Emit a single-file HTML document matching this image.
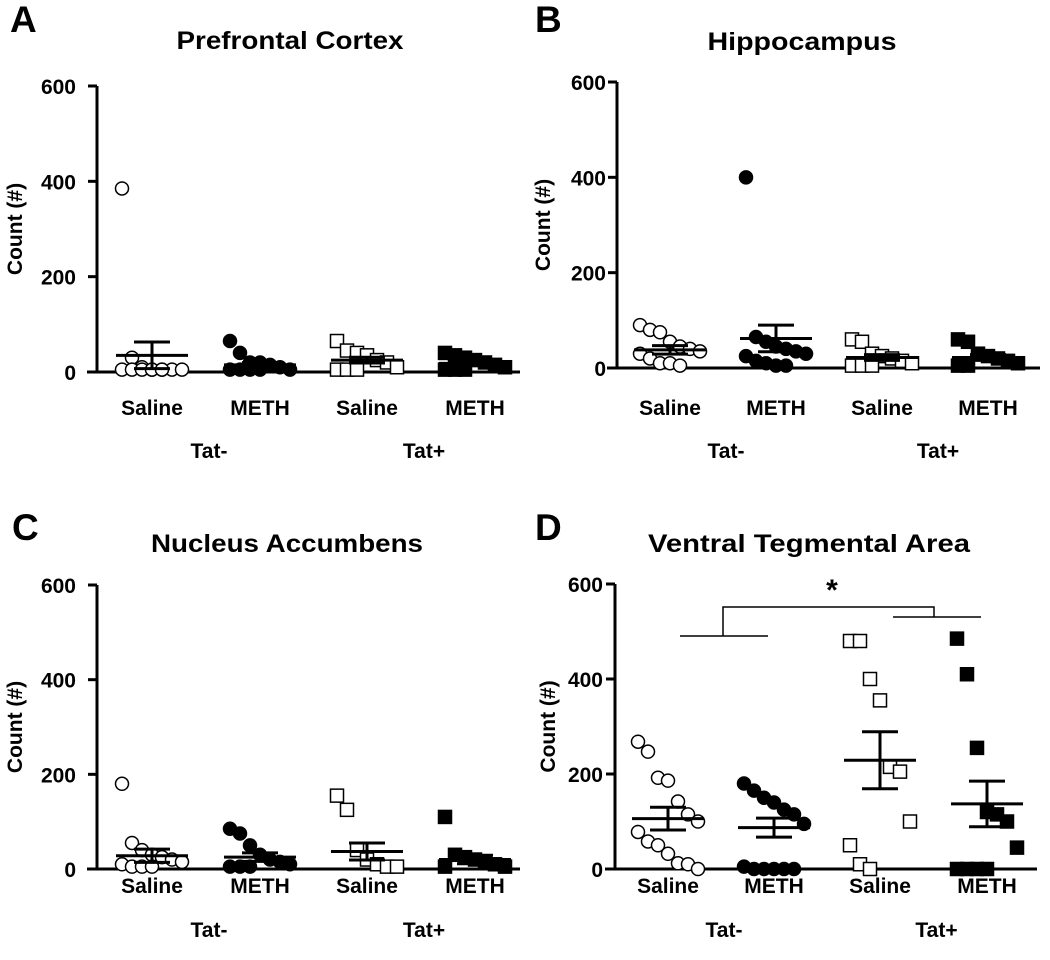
<!DOCTYPE html>
<html><head><meta charset="utf-8">
<style>
body{margin:0;background:#fff;}
svg{display:block;font-family:"Liberation Sans",Arial,sans-serif;font-weight:bold;}
</style></head>
<body>
<svg id="fig" width="1050" height="960" viewBox="0 0 1050 960"></svg>
<script>
const categories=["Saline","METH","Saline","METH"];
const groups=["Tat-","Tat+"];
const yTicks=[0,200,400,600];
const titles=["Prefrontal Cortex","Hippocampus","Nucleus Accumbens","Ventral  Tegmental  Area"];
const letters=["A","B","C","D"];
// panel A
const aSalTn=[385,30,10,5,5,5,5,5,5,5,5,5];
const aMethTn=[65,40,20,20,15,10,5,5,5,5,5];
const aSalTp=[65,45,40,35,25,20,10,5,5,5];
const aMethTp=[40,35,30,25,20,15,10,5,5,5];
const aMeans=[35,15,25,18];
const aSems=[28,5,6,4];
// panel B
const bSalTn=[90,80,75,55,45,40,35,30,20,10,10,5];
const bMethTn=[400,65,55,45,40,35,30,25,15,10,5,5];
const bSalTp=[60,55,30,25,20,15,10,5,5,5];
const bMethTp=[60,55,30,25,20,15,10,5,5];
const bMeans=[38,62,22,22];
const bSems=[9,28,6,6];
// panel C
const cSalTn=[180,55,40,30,25,20,15,10,5,5,5];
const cMethTn=[85,75,50,30,20,15,10,5,5,5];
const cSalTp=[155,125,40,20,10,5,5];
const cMethTp=[110,30,25,20,15,10,5,5];
const cMeans=[28,25,37,20];
const cSems=[14,9,18,9];
// panel D
const dSalTn=[268,247,192,186,142,115,100,78,58,50,32,12,10,0];
const dMethTn=[180,165,150,140,125,115,95,5,0,0,0,0,0];
const dSalTp=[480,480,400,355,215,205,100,50,10,0];
const dMethTp=[485,410,255,120,115,100,45,0,0,0,0];
const dMeans=[106,87,229,137];
const dSems=[24,20,60,48];

const NS="http://www.w3.org/2000/svg";
const svg=document.getElementById("fig");
function mk(tag,attrs,parent){const e=document.createElementNS(NS,tag);for(const k in attrs)e.setAttribute(k,attrs[k]);(parent||svg).appendChild(e);return e;}

const panels=[
 {ax:97,axEnd:520,y0:372,y600:86,cx:[152,260,367,475],title:[290,49],tw:227,ytOff:75,tkOff:21,letter:[10,32],catY:415,grpY:458,data:[aSalTn,aMethTn,aSalTp,aMethTp],means:aMeans,sems:aSems},
 {ax:617,axEnd:1040,y0:368,y600:82,cx:[670,776,882,988],title:[802,50],tw:189,ytOff:67,tkOff:11,letter:[535,32],catY:415,grpY:458,data:[bSalTn,bMethTn,bSalTp,bMethTp],means:bMeans,sems:bSems},
 {ax:97,axEnd:520,y0:869,y600:585,cx:[152,260,367,475],title:[287,552],tw:272,ytOff:75,tkOff:21,letter:[12,540],catY:893,grpY:937,data:[cSalTn,cMethTn,cSalTp,cMethTp],means:cMeans,sems:cSems},
 {ax:615,axEnd:1037,y0:869,y600:584,cx:[668,774,880,987],title:[809,552],tw:322,ytOff:60,tkOff:12,letter:[535,540],catY:893,grpY:937,data:[dSalTn,dMethTn,dSalTp,dMethTp],means:dMeans,sems:dSems}
];
const markers=["oc","fc","os","fs"];

panels.forEach((p,pi)=>{
 const g=mk("g",{});
 
 
 const y=v=>p.y0-(v/600)*(p.y0-p.y600);
 const lt=mk("text",{x:p.letter[0],y:p.letter[1],"font-size":37},g);lt.textContent=letters[pi];
 
 
 const tt=mk("text",{x:p.title[0],y:p.title[1],"font-size":25,"text-anchor":"middle",textLength:p.tw,lengthAdjust:"spacingAndGlyphs"},g);tt.textContent=titles[pi];
 
 
 mk("line",{x1:p.ax,y1:p.y600,x2:p.ax,y2:p.y0,stroke:"#000","stroke-width":3},g);
 const xa=mk("line",{x1:p.ax-10,y1:p.y0,x2:p.axEnd,y2:p.y0,stroke:"#000","stroke-width":3},g);
 
 
 yTicks.forEach(t=>{
  mk("line",{x1:p.ax-9,y1:y(t),x2:p.ax,y2:y(t),stroke:"#000","stroke-width":3},g);
  const tl=mk("text",{x:p.ax-p.tkOff,y:y(t)+8,"font-size":21,"text-anchor":"end"},g);tl.textContent=t;
  
  
 });
 const ymid=(p.y0+p.y600)/2;
 const yt=mk("text",{x:0,y:0,"font-size":21,"text-anchor":"middle",transform:`translate(${p.ax-p.ytOff},${ymid}) rotate(-90)`},g);yt.textContent="Count (#)";
 
 
 categories.forEach((c,i)=>{
  const cl=mk("text",{x:p.cx[i],y:p.catY,"font-size":21,"text-anchor":"middle"},g);cl.textContent=c;
  
  
 });
 groups.forEach((gn,i)=>{
  const gl=mk("text",{x:(p.cx[i*2]+p.cx[i*2+1])/2+3,y:p.grpY,"font-size":21,"text-anchor":"middle"},g);gl.textContent=gn;
  
  
 });
 p.data.forEach((vals,gi)=>{
  const m=markers[gi];
  const cx=p.cx[gi];
  vals.forEach((v,i)=>{
   const off=((i%7)-3)*10;
   const px=cx+off, py=y(v);
   let e;
   const fill=m[0]=="f"?"#000":"#fff";
   if(m[1]=="c") e=mk("circle",{cx:px,cy:py,r:6.5,fill:fill,stroke:"#000","stroke-width":1.5},g);
   else e=mk("rect",{x:px-6.5,y:py-6.5,width:13,height:13,fill:fill,stroke:"#000","stroke-width":1.5},g);
   
   
  });
  const mv=p.means[gi], sv=p.sems[gi];
  const ml=mk("line",{x1:cx-36,y1:y(mv),x2:cx+36,y2:y(mv),stroke:"#000","stroke-width":3},g);
  
  
  mk("line",{x1:cx,y1:y(mv+sv),x2:cx,y2:y(mv-sv),stroke:"#000","stroke-width":3},g);
  mk("line",{x1:cx-18,y1:y(mv+sv),x2:cx+18,y2:y(mv+sv),stroke:"#000","stroke-width":3},g);
  mk("line",{x1:cx-18,y1:y(mv-sv),x2:cx+18,y2:y(mv-sv),stroke:"#000","stroke-width":3},g);
 });
});
// significance bracket in D
const br=mk("g",{fill:"none",stroke:"#000","stroke-width":1.5});


mk("polyline",{points:"680,636 768,636"},br);
mk("polyline",{points:"723,636 723,607 934,607 934,617"},br);
mk("polyline",{points:"893,617 981,617"},br);
const st=mk("text",{x:832,y:600,"font-size":30,"text-anchor":"middle"});st.textContent="*";


</script>
</body></html>
